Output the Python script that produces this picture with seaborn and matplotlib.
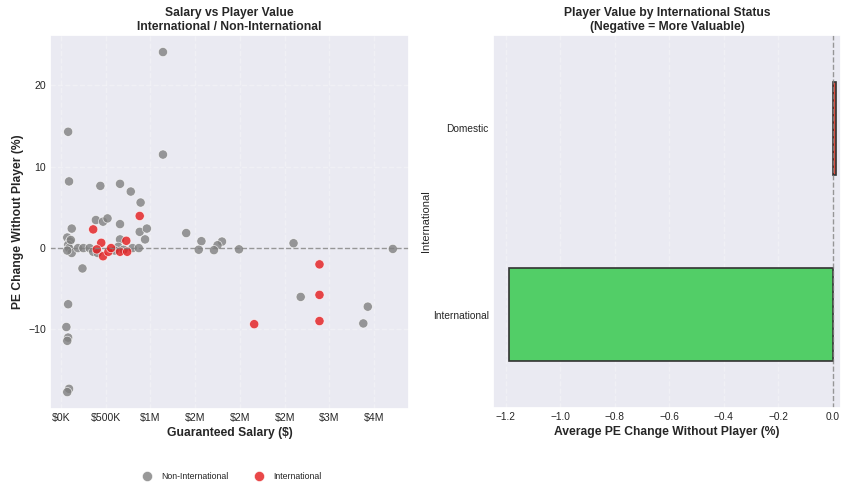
import matplotlib
matplotlib.use("Agg")
from matplotlib import pyplot as plt
from matplotlib.ticker import FuncFormatter, MultipleLocator
import pandas as pd
import seaborn as sns

sns.set_theme(style="darkgrid")
plt.rcParams['font.family'] = ['Liberation Sans', 'DejaVu Sans']

# salary in $M, PE change in %
non_intl_salary = [1.14, 1.14, 0.08, 0.09, 0.44, 0.66, 0.78, 0.89, 0.39, 0.47,
                   0.52, 0.66, 0.12, 0.88, 0.96, 0.94, 0.66, 1.40, 1.57, 1.80,
                   1.75, 2.60, 0.07, 0.10, 0.08, 0.09, 0.12, 0.19, 0.25, 0.24,
                   0.32, 0.36, 0.64, 0.80, 0.87, 3.71, 1.99, 1.54, 1.71, 2.68,
                   3.38, 3.43, 0.08, 0.06, 0.08, 0.07, 0.09, 0.07, 0.41, 0.60,
                   0.70, 0.11, 0.07]
non_intl_pe = [24.1, 11.5, 14.3, 8.2, 7.65, 7.9, 6.95, 5.6, 3.45, 3.25,
               3.65, 2.95, 2.4, 2.0, 2.4, 1.07, 1.07, 1.85, 0.85, 0.8,
               0.35, 0.6, 1.3, 0.8, 0.4, 0.0, -0.6, 0.0, 0.0, -2.5,
               0.0, -0.45, 0.16, 0.0, 0.0, -0.1, -0.15, -0.2, -0.25, -6.0,
               -9.26, -7.2, -6.9, -9.7, -11.0, -11.4, -17.3, -17.7, -0.6, -0.3,
               -0.2, 1.0, -0.3]

intl_salary = [0.36, 0.88, 0.45, 0.73, 0.40, 0.47, 0.53, 0.56, 0.66, 0.74,
               2.16, 2.89, 2.89, 2.89]
intl_pe = [2.3, 3.95, 0.65, 0.9, -0.16, -1.0, -0.45, 0.0, -0.45, -0.45,
           -9.35, -2.0, -5.75, -8.97]

status = ['Domestic', 'International']
avg_change = [0.012, -1.186]

scatter_df = pd.DataFrame({
    'salary': [s * 1e6 for s in non_intl_salary + intl_salary],
    'pe': non_intl_pe + intl_pe,
    'group': ['Non-International'] * len(non_intl_pe) + ['International'] * len(intl_pe),
})
bar_df = pd.DataFrame({'status': status, 'avg': avg_change})

fig = plt.figure(figsize=(8.41, 4.87), dpi=100)
ax1 = fig.add_axes([0.0595, 0.160, 0.427, 0.768])
ax2 = fig.add_axes([0.586, 0.162, 0.414, 0.766])

# left: salary vs value
sns.scatterplot(data=scatter_df, x='salary', y='pe', hue='group',
                hue_order=['Non-International', 'International'],
                palette={'Non-International': 'gray', 'International': '#e41a1c'},
                alpha=0.8, s=44, edgecolor='white', linewidth=0.5, ax=ax1)
ax1.axhline(0, color='gray', linestyle='--', linewidth=1, alpha=0.8)
ax1.xaxis.set_major_locator(MultipleLocator(500000))
ax1.xaxis.set_major_formatter(FuncFormatter(
    lambda x, p: f'${x/1e6:.0f}M' if x >= 1e6 else f'${x/1e3:.0f}K'))
ax1.grid(True, alpha=0.3, linestyle='--')
ax1.set_title('Salary vs Player Value\nInternational / Non-International',
              fontsize=8.7, fontweight='bold', pad=3.8)
ax1.set_xlabel('Guaranteed Salary ($)', fontsize=8.7, fontweight='bold', labelpad=3)
ax1.set_ylabel('PE Change Without Player (%)', fontsize=8.7, fontweight='bold', labelpad=3)
ax1.tick_params(labelsize=7.6, length=0, pad=3)
ax1.legend(loc='center', bbox_to_anchor=(0.5, -0.18), ncol=2, frameon=False,
           fontsize=6.3, handletextpad=0.6, columnspacing=2.5, markerscale=1.1)

# right: average by status
sns.barplot(data=bar_df, x='avg', y='status', hue='status',
            palette={'Domestic': '#e74c3c', 'International': '#52ce67'},
            saturation=1, width=0.5, edgecolor='#333333', linewidth=1.2,
            legend=False, ax=ax2)
ax2.axvline(0, color='gray', linestyle='--', linewidth=1, alpha=0.8)
ax2.set_xlim(-1.247, 0.03)
ax2.grid(True, axis='x', alpha=0.3, linestyle='--')
ax2.set_title('Player Value by International Status\n(Negative = More Valuable)',
              fontsize=8.7, fontweight='bold', pad=3.8)
ax2.set_xlabel('Average PE Change Without Player (%)', fontsize=8.7, fontweight='bold', labelpad=3)
ax2.set_ylabel('International', fontsize=8, labelpad=1.5)
ax2.tick_params(labelsize=7.3, length=0, pad=3)

plt.savefig('out.png', dpi=100)
